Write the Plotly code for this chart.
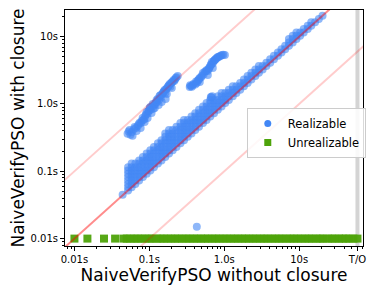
import plotly.graph_objects as go

TIMEOUT = 60          # seconds, shown as "T/O"
UNREAL_Y = 0.01       # unrealizable instances are all plotted at 0.01s

# ---- Realizable: main band along the diagonal (x station -> y values) ----
band_x = [0.052, 0.058, 0.065, 0.073, 0.082, 0.092, 0.103, 0.115, 0.13, 0.145,
          0.163, 0.183, 0.205, 0.23, 0.26, 0.29, 0.325, 0.365, 0.41, 0.46,
          0.52, 0.58, 0.65, 0.73, 0.82, 0.92, 1.03, 1.15, 1.3, 1.45,
          1.63, 1.83, 2.05, 2.3, 2.6, 2.9, 3.25, 3.65, 4.1, 4.6,
          5.2, 5.8, 6.5, 7.3, 8.2, 9.2, 10.3, 11.5, 13, 14.5,
          16.3, 18.3, 20.5]
band_y = [
    [0.052, 0.058, 0.065, 0.073, 0.082, 0.092, 0.103, 0.115],
    [0.058, 0.065, 0.073, 0.082, 0.092, 0.103, 0.115, 0.13],
    [0.065, 0.073, 0.082, 0.092, 0.103, 0.115, 0.13],
    [0.073, 0.082, 0.092, 0.103, 0.115, 0.13, 0.145],
    [0.082, 0.092, 0.103, 0.115, 0.13, 0.145, 0.163],
    [0.092, 0.103, 0.115, 0.13, 0.145, 0.163, 0.183],
    [0.103, 0.115, 0.13, 0.145, 0.163, 0.183, 0.205],
    [0.115, 0.13, 0.145, 0.163, 0.183, 0.205, 0.23],
    [0.13, 0.145, 0.163, 0.183, 0.205, 0.23, 0.26],
    [0.145, 0.163, 0.183, 0.205, 0.23, 0.26, 0.29],
    [0.163, 0.183, 0.205, 0.23, 0.26, 0.29, 0.325, 0.365],
    [0.183, 0.205, 0.23, 0.26, 0.29, 0.325, 0.365, 0.41],
    [0.205, 0.23, 0.26, 0.29, 0.325, 0.365, 0.41],
    [0.23, 0.26, 0.29, 0.325, 0.365, 0.41, 0.46],
    [0.26, 0.29, 0.325, 0.365, 0.41, 0.46, 0.52],
    [0.29, 0.325, 0.365, 0.41, 0.46, 0.52, 0.58],
    [0.325, 0.365, 0.41, 0.46, 0.52, 0.58],
    [0.365, 0.41, 0.46, 0.52, 0.58, 0.65],
    [0.41, 0.46, 0.52, 0.58, 0.65, 0.73],
    [0.46, 0.52, 0.58, 0.65, 0.73, 0.82],
    [0.52, 0.58, 0.65, 0.73, 0.82, 0.92],
    [0.58, 0.65, 0.73, 0.82, 0.92, 1.03],
    [0.65, 0.73, 0.82, 0.92, 1.03, 1.15],
    [0.73, 0.82, 0.92, 1.03, 1.15],
    [0.82, 0.92, 1.03, 1.15, 1.3],
    [0.92, 1.03, 1.15, 1.3, 1.45],
    [1.03, 1.15, 1.3, 1.45],
    [1.15, 1.3, 1.45, 1.63],
    [1.3, 1.45, 1.63, 1.83],
    [1.45, 1.63, 1.83],
    [1.63, 1.83, 2.05],
    [1.83, 2.05, 2.3],
    [2.05, 2.3, 2.6],
    [2.3, 2.6, 2.9],
    [2.6, 2.9, 3.25],
    [2.9, 3.25, 3.65],
    [3.25, 3.65],
    [3.65, 4.1],
    [4.1, 4.6],
    [4.6, 5.2],
    [5.2, 5.8],
    [5.8, 6.5],
    [6.5, 7.3],
    [7.3, 8.2, 9.2],
    [8.2, 9.2, 10.3],
    [9.2, 10.3, 11.5],
    [10.3, 11.5],
    [11.5, 13],
    [13, 14.5],
    [14.5, 16.3],
    [16.3],
    [18.3],
    [20.5],
]

# ---- Realizable: upper cluster near the 10x line ----
upper_x = [0.0512, 0.0544, 0.058, 0.0597, 0.0635, 0.0676, 0.07, 0.0741, 0.0765, 0.079,
           0.0813, 0.0865, 0.088, 0.092, 0.0948, 0.097, 0.101, 0.104, 0.107, 0.111,
           0.115, 0.118, 0.122, 0.125, 0.13, 0.133, 0.137, 0.142, 0.146, 0.151,
           0.155, 0.160, 0.165, 0.168, 0.171, 0.176, 0.18, 0.187, 0.195, 0.199,
           0.205, 0.211, 0.22, 0.225, 0.239,
           0.053, 0.056, 0.062, 0.066, 0.072, 0.077, 0.083, 0.086, 0.09, 0.095,
           0.099, 0.103, 0.109, 0.113, 0.12, 0.127, 0.135, 0.14, 0.148, 0.157,
           0.163, 0.17, 0.183, 0.19, 0.2, 0.215, 0.23]
upper_y = [0.36, 0.41, 0.38, 0.336, 0.456, 0.398, 0.47, 0.524, 0.44, 0.56,
           0.62, 0.54, 0.66, 0.76, 0.62, 0.78, 0.873, 0.82, 0.736, 1.0,
           0.95, 0.873, 1.05, 1.146, 1.2, 0.966, 1.31, 1.25, 1.07, 1.455,
           1.5, 1.61, 1.19, 1.65, 1.41, 1.79, 1.85, 1.98, 2.05, 1.73,
           2.15, 2.27, 2.3, 2.43, 2.6,
           0.39, 0.35, 0.42, 0.44, 0.5, 0.52, 0.58, 0.6, 0.7, 0.72,
           0.8, 0.9, 0.92, 0.85, 1.0, 1.08, 1.15, 1.35, 1.4, 1.55,
           1.45, 1.7, 1.9, 1.8, 2.1, 2.2, 2.5]

# ---- Realizable: middle cluster (0.3s - 1s) ----
mid_x = [0.346, 0.36, 0.38, 0.41, 0.43, 0.45, 0.471, 0.471, 0.5, 0.518,
         0.55, 0.585, 0.603, 0.62, 0.641, 0.66, 0.682, 0.703, 0.72, 0.748,
         0.78, 0.82, 0.87, 0.929, 1.02, 0.662, 0.69,
         0.35, 0.37, 0.39, 0.42, 0.44, 0.46, 0.49, 0.53, 0.57, 0.6,
         0.63, 0.67, 0.7, 0.73, 0.76, 0.8, 0.84, 0.9, 0.97, 0.67]
mid_y = [1.79, 1.85, 1.91, 1.95, 2.05, 2.25, 2.43, 2.12, 2.6, 2.88,
         3.0, 3.19, 2.69, 3.3, 3.53, 3.8, 4.19, 3.41, 4.3, 4.49,
         4.7, 4.97, 5.1, 5.32, 5.32, 1.27, 1.3,
         1.9, 1.8, 2.0, 2.15, 2.2, 2.35, 2.5, 2.75, 3.1, 3.1,
         3.45, 3.9, 4.0, 4.4, 4.6, 4.85, 5.0, 5.2, 5.4, 1.25]

# ---- Realizable: stray points ----
stray_x = [0.044, 0.43]
stray_y = [0.045, 0.015]

# ---- Unrealizable (without-closure times) ----
unreal_x = [0.01, 0.0149, 0.0248, 0.0349, 0.045, 0.05, 0.056, 0.063, 0.07, 0.079,
            0.088, 0.1, 0.11, 0.125, 0.14, 0.155, 0.175, 0.195, 0.22, 0.245,
            0.275, 0.31, 0.345, 0.39, 0.435, 0.49, 0.55, 0.61, 0.69, 0.77,
            0.86, 0.97, 1.08, 1.22, 1.36, 1.53, 1.72, 1.92, 2.15, 2.42,
            2.7, 3.05, 3.4, 3.8, 4.3, 4.8, 5.4, 6.0, 6.8, 7.6,
            8.5, 9.5, 10.7, 12, 13.5, 15, 17, 19, 21, 24,
            27, 30, 34, 38, 42, 47, 53, 60]

ref_ratios = [10, 1, 0.1]
ref_span = [0.0001, 10000]

x_tickvals = [0.01, 0.1, 1, 10, TIMEOUT]
x_ticktext = ["0.01s", "0.1s", "1.0s", "10s", "T/O"]
y_tickvals = [0.01, 0.1, 1, 10]
y_ticktext = ["0.01s", "0.1s", "1.0s", "10s"]
minor_mult = [2, 3, 4, 5, 6, 7, 8, 9]

# assemble realizable points
real_x, real_y = [], []
for xv, ys in zip(band_x, band_y):
    for yv in ys:
        real_x.append(xv)
        real_y.append(yv)
real_x += upper_x + mid_x + stray_x
real_y += upper_y + mid_y + stray_y

BLUE = "#4287f5"
GREEN = "#4ea30a"

fig = go.Figure()

# timeout band
fig.add_trace(go.Scatter(x=[TIMEOUT, TIMEOUT], y=ref_span, mode="lines",
                         line=dict(color="#d4d4d4", width=4),
                         showlegend=False, hoverinfo="skip"))

fig.add_trace(go.Scatter(x=real_x, y=real_y, mode="markers", name="Realizable",
                         marker=dict(color=BLUE, size=8, opacity=0.6, line=dict(width=0)),
                         showlegend=False))
fig.add_trace(go.Scatter(x=unreal_x, y=[UNREAL_Y] * len(unreal_x), mode="markers",
                         name="Unrealizable",
                         marker=dict(color=GREEN, size=8, symbol="square", opacity=0.95,
                                     line=dict(width=0)),
                         showlegend=False))

# reference lines y = r * x
for r in ref_ratios:
    fig.add_trace(go.Scatter(x=ref_span, y=[v * r for v in ref_span], mode="lines",
                             line=dict(color="rgba(255,0,0,0.45)" if r == 1 else "rgba(255,0,0,0.2)",
                                       width=2),
                             showlegend=False, hoverinfo="skip"))

# legend entries
fig.add_trace(go.Scatter(x=[None], y=[None], mode="markers", name="Realizable",
                         marker=dict(color=BLUE, size=7)))
fig.add_trace(go.Scatter(x=[None], y=[None], mode="markers", name="Unrealizable",
                         marker=dict(color=GREEN, size=7, symbol="square")))

minor_x = [m * 10 ** d for d in (-3, -2, -1, 0, 1) for m in minor_mult]
minor_y = [m * 10 ** d for d in (-3, -2, -1, 0, 1) for m in minor_mult]

axis_common = dict(type="log", showgrid=False, zeroline=False, showline=True, mirror=True,
                   linecolor="black", linewidth=1, ticks="outside", ticklen=4,
                   tickcolor="black", tickwidth=1, tickmode="array",
                   tickfont=dict(size=10, color="black"))

fig.update_xaxes(**axis_common, range=[-2.126, 1.852], tickvals=x_tickvals,
                 ticktext=x_ticktext,
                 minor=dict(ticks="outside", ticklen=2, tickcolor="black",
                            tickmode="array", tickvals=minor_x, showgrid=False),
                 title=dict(text="NaiveVerifyPSO without closure", font=dict(size=17),
                            standoff=2))
fig.update_yaxes(**axis_common, range=[-2.11, 1.396], tickvals=y_tickvals,
                 ticktext=y_ticktext,
                 minor=dict(ticks="outside", ticklen=2, tickcolor="black",
                            tickmode="array", tickvals=minor_y, showgrid=False),
                 title=dict(text="NaiveVerifyPSO with closure", font=dict(size=17),
                            standoff=6))

# page body has an 8px margin, so the figure is sized to fit the window
fig.update_layout(
    width=367, height=286,
    margin=dict(l=57, r=12, t=2, b=48, autoexpand=False),
    paper_bgcolor="white", plot_bgcolor="white",
    font=dict(family="DejaVu Sans", size=10, color="black"),
    legend=dict(x=0.61, y=0.585, xanchor="left", yanchor="top",
                bordercolor="#cccccc", borderwidth=1,
                bgcolor="rgba(255,255,255,0.85)", font=dict(size=11.5),
                itemwidth=30, tracegroupgap=0),
)

fig.write_html("out.html")
